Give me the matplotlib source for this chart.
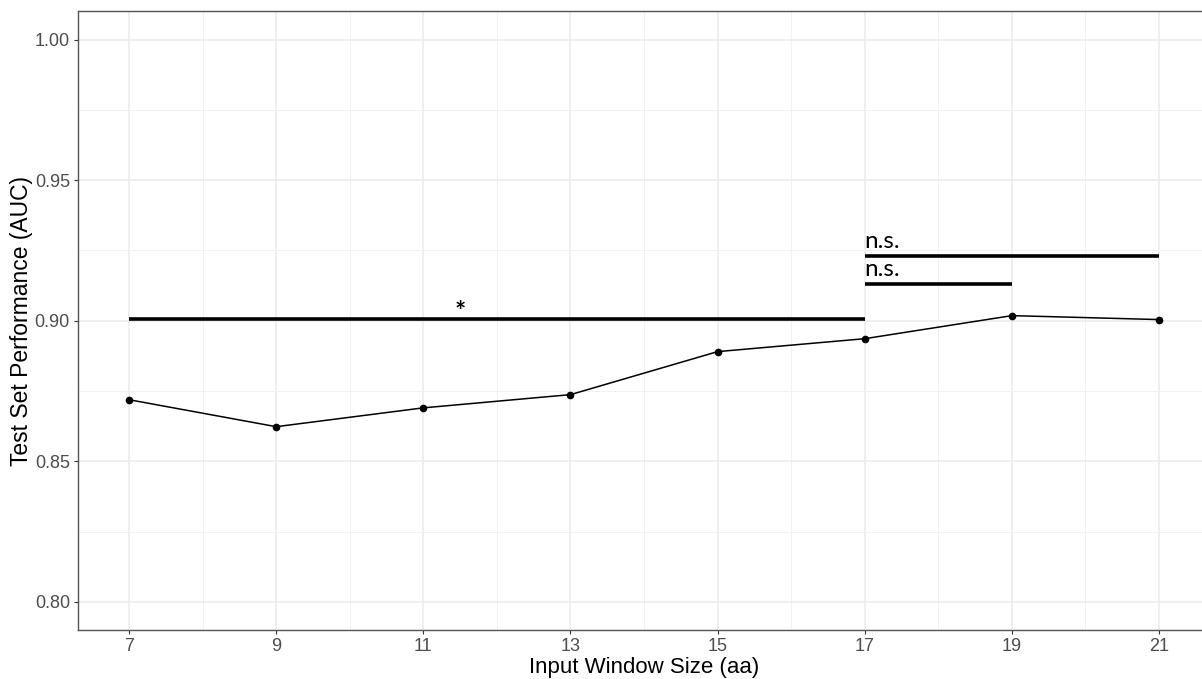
import matplotlib
matplotlib.use("Agg")
import matplotlib.pyplot as plt
from matplotlib.ticker import MultipleLocator

window = [7, 9, 11, 13, 15, 17, 19, 21]
auc = [0.8719, 0.8623, 0.8690, 0.8737, 0.8890, 0.8936, 0.9018, 0.9004]

# significance brackets: (x start, x end, y, label, label x, label y)
brackets = [
    (7, 17, 0.9007, "*", 11.5, 0.8988),
    (17, 19, 0.9132, "n.s.", 17.0, 0.9143),
    (17, 21, 0.9231, "n.s.", 17.0, 0.9243),
]

plt.rcParams["font.family"] = ["Liberation Sans", "DejaVu Sans"]

fig = plt.figure(figsize=(12.02, 6.79), dpi=100)
ax = fig.add_axes([0.0645, 0.0722, 0.9426, 0.911])

ax.plot(window, auc, color="black", lw=1.1, marker="o", ms=4.5, zorder=3)

for x0, x1, y, lab, lx, ly in brackets:
    ax.plot([x0, x1], [y, y], color="black", lw=2.6, solid_capstyle="butt", zorder=3)
    if lab == "*":
        ax.text(lx, ly, lab, fontsize=19, fontweight="bold", family=["Lato", "DejaVu Sans"],
                ha="center", va="bottom", color="black")
    else:
        ax.text(lx, ly, lab, fontsize=17.5, family=["Lato", "DejaVu Sans"],
                ha="left", va="bottom", color="black")

ax.set_xlim(6.3, 21.7)
ax.set_ylim(0.79, 1.01)
ax.set_xticks(window)
ax.xaxis.set_minor_locator(MultipleLocator(1))
ax.set_yticks([0.80, 0.85, 0.90, 0.95, 1.00])
ax.yaxis.set_minor_locator(MultipleLocator(0.025))
ax.set_yticklabels(["0.80", "0.85", "0.90", "0.95", "1.00"])

ax.grid(which="major", color="#ebebeb", lw=1.1)
ax.grid(which="minor", color="#f2f2f2", lw=0.7)
ax.set_axisbelow(True)
ax.tick_params(which="minor", length=0)
ax.tick_params(which="major", length=3, pad=2.5, color="#333333", labelsize=13, labelcolor="#4d4d4d")
for s in ax.spines.values():
    s.set_color("#555555")
    s.set_linewidth(1.0)
ax.spines["right"].set_visible(False)

ax.set_xlabel("Input Window Size (aa)", fontsize=16, labelpad=2)
ax.set_ylabel("Test Set Performance (AUC)", fontsize=16.5, labelpad=1)

fig.savefig("out.png", dpi=100)
